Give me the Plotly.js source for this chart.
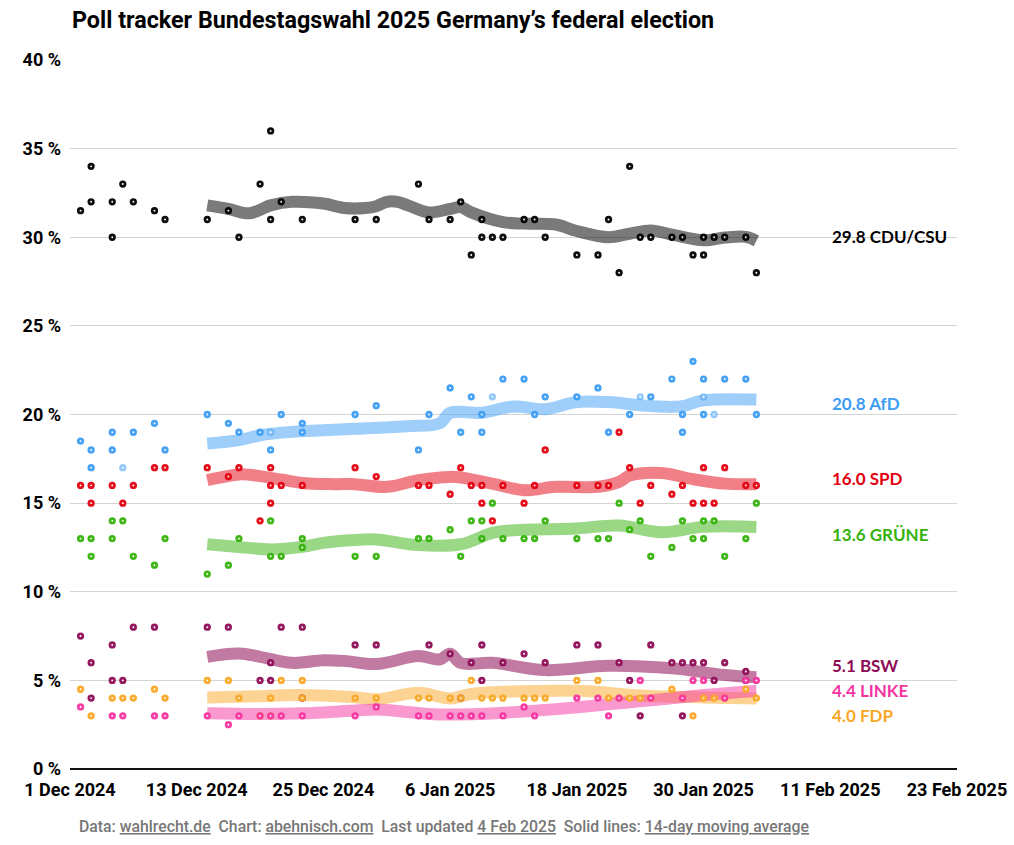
<!DOCTYPE html>
<html>
<head>
<meta charset="utf-8">
<script src="https://cdn.plot.ly/plotly-3.0.1.min.js"></script>
<style>
  html, body { margin: 0; padding: 0; background: #fff; }
  #chart { width: 1014px; height: 845px; }
</style>
</head>
<body>
<div id="chart"></div>
<script>
// ---------- DATA ----------
// Poll dates are given as days since 1 Dec 2024.
const START_DATE = '2024-12-01';

const partyNames = ['CDU/CSU', 'AfD', 'SPD', 'GRÜNE', 'BSW', 'LINKE', 'FDP'];
const latestAverage = [29.8, 20.8, 16.0, 13.6, 5.1, 4.4, 4.0];

const xTickDays = [0, 12, 24, 36, 48, 60, 72, 84];
const xTickLabels = ['1 Dec 2024', '13 Dec 2024', '25 Dec 2024', '6 Jan 2025',
                     '18 Jan 2025', '30 Jan 2025', '11 Feb 2025', '23 Feb 2025'];
const yTickValues = [0, 5, 10, 15, 20, 25, 30, 35, 40];
const yTickLabels = ['0 %', '5 %', '10 %', '15 %', '20 %', '25 %', '30 %', '35 %', '40 %'];

// individual polls
const cduDay = [1,2,2,4,4,5,6,8,9,13,15,16,18,19,19,20,22,27,29,33,34,36,37,38,39,39,40,41,43,44,45,48,50,51,52,53,54,55,57,58,59,60,60,61,62,64,65];
const cduPct = [31.5,34,32,32,30,33,32,31.5,31,31,31.5,30,33,36,31,32,31,31,31,33,31,31,32,29,31,30,30,30,31,31,30,29,29,31,28,34,30,30,30,30,29,30,29,30,30,30,28];

const afdDay = [1,2,2,4,4,5,6,8,9,13,15,16,18,19,19,20,22,22,27,29,33,34,36,37,38,39,39,40,41,43,44,45,48,50,51,53,54,55,57,58,58,59,60,60,60,61,62,64,65];
const afdPct = [18.5,18,17,19,18,17,19,19.5,18,20,19.5,19,19,19,18,20,19.5,19,20,20.5,18,20,21.5,19,21,20,19,21,22,22,20,21,21,21.5,19,20,21,21,22,20,19,23,22,21,20,20,22,22,20];
const afdFaint = [0,0,0,0,0,1,0,0,0,0,0,0,0,1,0,0,0,0,0,0,0,0,0,0,0,0,0,1,0,0,0,0,0,0,0,0,1,0,0,0,0,0,0,1,0,1,0,0,0];

const spdDay = [1,2,2,4,5,6,8,9,13,15,16,18,19,19,19,20,22,27,29,33,34,36,37,38,39,39,40,41,43,44,45,48,50,51,52,53,54,55,57,58,59,60,60,61,62,64,65];
const spdPct = [16,16,15,16,15,16,17,17,17,16.5,17,14,17,16,15,16,16,17,16.5,16,16,15.5,17,16,16,15,14,16,15,16,18,16,16,16,19,17,15,16,15.5,16,15,17,15,15,17,16,16];

const grueneDay = [1,2,2,4,4,5,6,8,9,13,15,16,19,19,20,22,22,27,29,33,34,36,37,38,39,39,40,41,43,44,45,48,50,51,52,53,54,55,57,58,59,60,60,61,62,64,65];
const gruenePct = [13,13,12,14,13,14,12,11.5,13,11,11.5,13,14,12,12,13,12.5,12,12,13,13,13.5,12,14,14,13,15,13,13,13,14,13,13,13,15,13.5,14,12,12.5,14,13,14,13,14,12,13,15];

const bswDay = [1,2,2,4,4,5,6,8,13,15,18,19,19,20,22,22,27,29,34,36,37,38,39,39,41,43,45,48,50,52,53,54,55,57,58,58,59,60,61,62,64,64];
const bswPct = [7.5,6,4,7,5,5,8,8,8,8,5,6,5,8,8,4,7,7,7,6.5,4,6,7,5,6,6.5,6,7,7,6,5,3,7,6,6,3,6,6,5,6,5.5,5];

const linkeDay = [1,4,5,8,9,13,15,16,18,19,20,22,27,29,33,34,36,37,38,39,41,43,44,48,50,51,52,54,55,58,59,60,62,64,65];
const linkePct = [3.5,3,3,3,3,3,2.5,3,3,3,3,3,3,3.5,3,3,3,3,3,3,3,3.5,3,4,4,3,4,5,4,4,5,5,4,5,5];

const fdpDay = [1,2,4,5,6,8,9,13,15,16,18,19,19,20,22,22,27,29,33,34,36,37,38,39,40,41,43,44,45,48,50,51,52,53,54,55,57,58,59,60,61,62,64,65];
const fdpPct = [4.5,3,4,4,4,4.5,4,5,5,4,3,4,3,5,5,4,4,4,4,4,4,4,5,4,4,4,4,4,4,5,5,4,4,4,4,4,4.5,4,3,4,4,4,4.5,4];

// 14-day moving averages
const cduMaDay = [13,15,17,19,21,24,26,28,29,30,31,32,34,36,37,38,41,43,46,48,51,53,55,57,60,62,64,65];
const cduMa = [31.8,31.6,31.35,31.8,32.0,31.9,31.65,31.65,31.75,32.0,32.0,31.8,31.4,31.6,31.7,31.4,30.85,30.77,30.72,30.35,30.0,30.2,30.38,30.15,29.83,29.98,30.02,29.8];
const afdMaDay = [13,16,18,21,24,27,32,35,36,39,42,45,48,51,54,57,58,60,65];
const afdMa = [18.36,18.55,18.83,19.02,19.11,19.2,19.34,19.5,20.09,20.1,20.45,20.3,20.71,20.7,20.52,20.43,20.47,20.8,20.84];
const spdMaDay = [13,16,17,20,22,25,27,30,33,36,37,40,43,46,50,52,53,56,59,62,65];
const spdMa = [16.3,16.62,16.6,16.33,16.14,16.07,16.07,15.92,16.3,16.48,16.45,16.1,15.73,15.92,15.92,16.2,16.55,16.7,16.35,16.1,16.07];
const grueneMaDay = [13,16,19,22,24,27,29,33,37,40,42,48,52,56,60,65];
const grueneMa = [12.68,12.53,12.39,12.53,12.76,12.92,12.95,12.63,12.68,13.32,13.47,13.57,13.74,13.36,13.66,13.66];
const bswMaDay = [13,16,18,21,24,26,29,33,35,36,37,40,45,51,57,62,65];
const bswMa = [6.33,6.52,6.33,5.99,6.14,6.1,5.92,6.37,6.18,6.5,5.98,5.99,5.58,5.82,5.68,5.3,5.17];
const linkeMaDay = [13,18,22,27,29,35,41,48,54,60,65];
const linkeMa = [3.14,3.1,3.14,3.3,3.36,3.08,3.17,3.48,3.82,4.17,4.42];
const fdpMaDay = [13,18,21,27,29,33,36,38,48,54,60,65];
const fdpMa = [4.04,4.11,4.17,4.05,3.93,4.3,3.98,4.23,4.41,4.15,4.04,3.98];

// ---------- STYLE ----------
const COLORS = {
  'CDU/CSU': [0, 0, 0],
  'AfD': [61, 157, 243],
  'SPD': [227, 0, 15],
  'GRÜNE': [54, 178, 13],
  'BSW': [142, 12, 86],
  'LINKE': [245, 52, 160],
  'FDP': [249, 168, 37]
};
const LINE_ALPHA = { 'CDU/CSU': 0.52, 'AfD': 0.5, 'SPD': 0.5, 'GRÜNE': 0.5, 'BSW': 0.55, 'LINKE': 0.5, 'FDP': 0.5 };
const labelY = { 'CDU/CSU': 30.04, 'AfD': 20.63, 'SPD': 16.4, 'GRÜNE': 13.25, 'BSW': 5.85, 'LINKE': 4.43, 'FDP': 3.03 };

const FONT_COND = "Roboto, 'Noto Sans', sans-serif";
const FONT_LABEL = "Lato, 'Open Sans', sans-serif";

function rgba(c, a) { return 'rgba(' + c[0] + ',' + c[1] + ',' + c[2] + ',' + a + ')'; }
function toDate(d) {
  const t = new Date(Date.parse(START_DATE + 'T00:00:00Z') + d * 86400000);
  return t.toISOString().slice(0, 10);
}

const polls = {
  'CDU/CSU': [cduDay, cduPct],
  'AfD': [afdDay, afdPct],
  'SPD': [spdDay, spdPct],
  'GRÜNE': [grueneDay, gruenePct],
  'BSW': [bswDay, bswPct],
  'LINKE': [linkeDay, linkePct],
  'FDP': [fdpDay, fdpPct]
};
const averages = {
  'CDU/CSU': [cduMaDay, cduMa],
  'AfD': [afdMaDay, afdMa],
  'SPD': [spdMaDay, spdMa],
  'GRÜNE': [grueneMaDay, grueneMa],
  'BSW': [bswMaDay, bswMa],
  'LINKE': [linkeMaDay, linkeMa],
  'FDP': [fdpMaDay, fdpMa]
};

const lineOrder = ['CDU/CSU', 'AfD', 'SPD', 'GRÜNE', 'BSW', 'FDP', 'LINKE'];
const traces = [];
lineOrder.forEach(p => {
  const [d, v] = averages[p];
  traces.push({
    type: 'scatter', mode: 'lines',
    x: d.map(toDate), y: v,
    line: { color: rgba(COLORS[p], LINE_ALPHA[p]), width: 12, shape: 'spline', smoothing: 1 },
    hoverinfo: 'skip'
  });
});
lineOrder.forEach(p => {
  const [d, v] = polls[p];
  let lineColor = rgba(COLORS[p], 0.95);
  if (p === 'AfD') {
    lineColor = afdFaint.map(f => f ? rgba(COLORS[p], 0.55) : rgba(COLORS[p], 0.95));
  }
  traces.push({
    type: 'scatter', mode: 'markers',
    x: d.map(toDate), y: v,
    marker: { symbol: 'circle', size: 4.6, color: 'rgba(255,255,255,0.9)',
              line: { color: lineColor, width: 2.7 } },
    hoverinfo: 'skip'
  });
});

const annotations = partyNames.map((p, i) => ({
  xref: 'x', yref: 'y',
  x: toDate(72), y: labelY[p],
  xanchor: 'left', yanchor: 'middle',
  text: latestAverage[i].toFixed(1) + ' ' + p,
  showarrow: false,
  font: { family: FONT_LABEL, size: 17, color: rgba(COLORS[p], 1), weight: 700 }
}));

annotations.push({
  xref: 'paper', yref: 'paper', x: 7 / 887, y: -57 / 709,
  xanchor: 'left', yanchor: 'middle', showarrow: false,
  text: 'Data: <span style="text-decoration:underline">wahlrecht.de</span>\u00a0\u00a0Chart: <span style="text-decoration:underline">abehnisch.com</span>\u00a0\u00a0Last updated <span style="text-decoration:underline">4 Feb 2025</span>\u00a0\u00a0Solid lines: <span style="text-decoration:underline">14-day moving average</span>',
  font: { family: FONT_COND, size: 15.8, color: '#777', weight: 500 }
});

const layout = {
  width: 1014, height: 845,
  margin: { l: 70, r: 57, t: 60, b: 76, pad: 0 },
  paper_bgcolor: '#fff', plot_bgcolor: '#fff',
  showlegend: false,
  title: {
    text: 'Poll tracker Bundestagswahl 2025 Germany’s federal election',
    xref: 'container', yref: 'container',
    x: 72 / 1014, xanchor: 'left',
    y: 1 - 20 / 845, yanchor: 'middle',
    font: { family: FONT_COND, size: 23.3, color: '#000', weight: 700 }
  },
  xaxis: {
    type: 'date',
    range: [toDate(0), toDate(84)],
    tickmode: 'array',
    tickvals: xTickDays.map(toDate),
    ticktext: xTickLabels,
    showgrid: false, zeroline: false, showline: false,
    ticks: '',
    ticklabelstandoff: 8,
    tickfont: { family: FONT_COND, size: 18, color: '#000', weight: 700 },
    fixedrange: true
  },
  yaxis: {
    range: [0, 40],
    tickmode: 'array',
    tickvals: yTickValues,
    ticktext: yTickLabels,
    showgrid: true, gridcolor: '#d4d4d4', gridwidth: 1,
    zeroline: true, zerolinecolor: '#111', zerolinewidth: 2,
    showline: false, ticks: '',
    ticklabelstandoff: 8,
    tickfont: { family: FONT_COND, size: 18, color: '#000', weight: 700 },
    fixedrange: true
  },
  annotations: annotations
};

Plotly.newPlot('chart', traces, layout, { staticPlot: true, displayModeBar: false });
</script>
</body>
</html>
